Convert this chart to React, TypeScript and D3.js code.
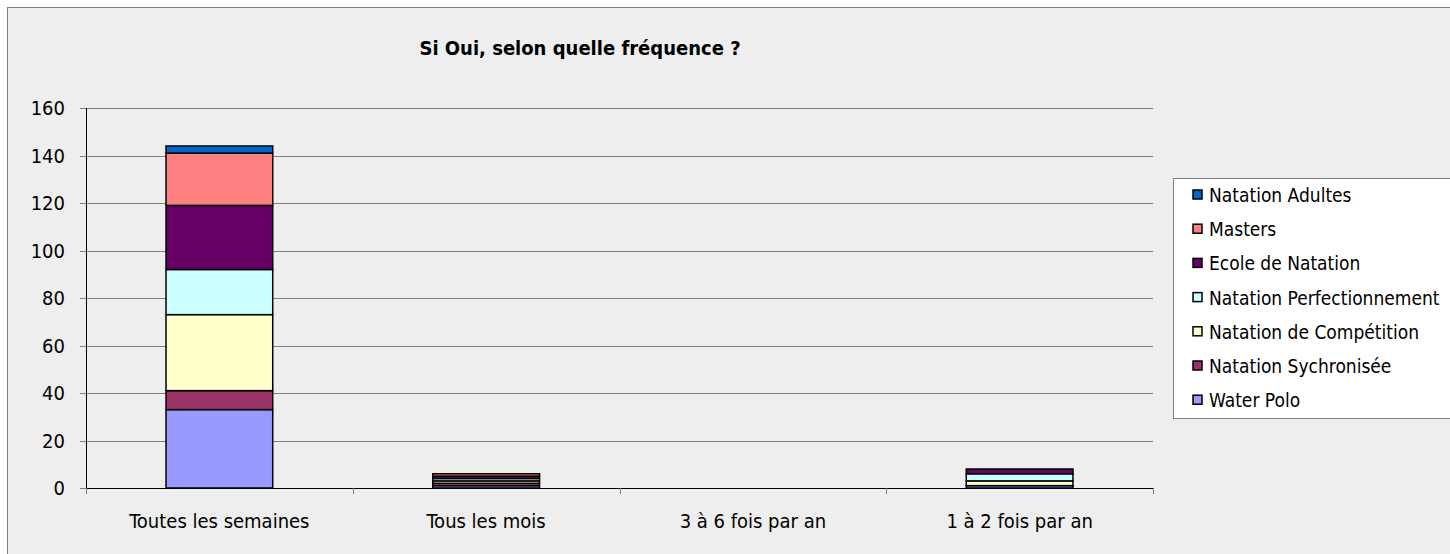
import React from "react";
import * as d3 from "d3";

// categories and series (stacked bottom -> top)
const categories = ["Toutes les semaines", "Tous les mois", "3 à 6 fois par an", "1 à 2 fois par an"];
const seriesNames = [
  "Water Polo",
  "Natation Sychronisée",
  "Natation de Compétition",
  "Natation Perfectionnement",
  "Ecole de Natation",
  "Masters",
  "Natation Adultes",
];
const waterPolo = [33, 1, 0, 1];
const synchro = [8, 1, 0, 0];
const competition = [32, 1, 0, 2];
const perfectionnement = [19, 1, 0, 3];
const ecole = [27, 1, 0, 2];
const masters = [22, 1, 0, 0];
const adultes = [3, 0, 0, 0];
const yTicks = [0, 20, 40, 60, 80, 100, 120, 140, 160];

const colors = ["#9999FF", "#993366", "#FFFFCC", "#CCFFFF", "#660066", "#FF8080", "#0066CC"];
const FONT = "'DejaVu Sans Condensed', 'Liberation Sans', sans-serif";

const App = () => {
  const W = 1450;
  const H = 554;
  const plot = { left: 86, right: 1153, top: 108, bottom: 488 };

  const allSeries = [waterPolo, synchro, competition, perfectionnement, ecole, masters, adultes];
  const rows = categories.map((c, i) => {
    const r: Record<string, any> = { cat: c };
    seriesNames.forEach((s, j) => (r[s] = allSeries[j][i]));
    return r;
  });
  const stacked = d3.stack<any>().keys(seriesNames)(rows);

  const x = d3
    .scaleBand()
    .domain(categories)
    .range([plot.left, plot.right])
    .paddingInner(0.6)
    .paddingOuter(0.3);
  const y = d3.scaleLinear().domain([0, 160]).range([plot.bottom, plot.top]);
  const step = x.step();
  const bounds = d3.range(categories.length + 1).map((i) => plot.left + i * step);

  // legend is drawn top -> bottom in reverse order
  const legendItems = seriesNames.map((s, i) => ({ s, c: colors[i] })).reverse();

  return (
    <svg
      width={W}
      height={H}
      style={{ position: "absolute", left: 0, top: 0, fontFamily: FONT }}
    >
      <rect x={7.5} y={7.5} width={W + 10} height={H + 10} fill="#EEEEEE" stroke="#808080" strokeWidth={1} />

      <text x={580} y={48} textAnchor="middle" dominantBaseline="central" fontWeight="bold" fontSize={20} fill="#000">
        Si Oui, selon quelle fréquence ?
      </text>

      {/* gridlines */}
      {yTicks.map((t) => (
        <line key={t} x1={plot.left - 6} x2={t === 0 ? plot.left : plot.right} y1={Math.round(y(t)) + 0.5} y2={Math.round(y(t)) + 0.5} stroke="#808080" strokeWidth={1} />
      ))}
      {yTicks.map((t) => (
        <text key={"l" + t} x={65} y={y(t)} textAnchor="end" dominantBaseline="central" fontSize={20} fill="#000">
          {t}
        </text>
      ))}

      {/* bars */}
      {stacked.map((layer, j) =>
        layer.map((d, i) =>
          d[1] - d[0] > 0 ? (
            <rect
              key={j + "-" + i}
              x={x(categories[i])!}
              y={y(d[1])}
              width={x.bandwidth()}
              height={y(d[0]) - y(d[1])}
              fill={colors[j]}
              stroke="#000"
              strokeWidth={1.5}
            />
          ) : null
        )
      )}

      {/* axes */}
      <line x1={plot.left + 0.5} x2={plot.left + 0.5} y1={plot.top} y2={plot.bottom} stroke="#000" strokeWidth={1} />
      <line x1={plot.left} x2={plot.right} y1={plot.bottom + 0.5} y2={plot.bottom + 0.5} stroke="#000" strokeWidth={1} />
      {bounds.map((b, i) => (
        <line key={"t" + i} x1={Math.round(b) + 0.5} x2={Math.round(b) + 0.5} y1={plot.bottom} y2={plot.bottom + 6} stroke="#808080" strokeWidth={1} />
      ))}
      {categories.map((c) => (
        <text key={c} x={x(c)! + x.bandwidth() / 2} y={521} textAnchor="middle" dominantBaseline="central" fontSize={20} fill="#000">
          {c}
        </text>
      ))}

      {/* legend */}
      <rect x={1173.5} y={178.5} width={300} height={240} fill="#FFFFFF" stroke="#808080" strokeWidth={1} />
      {legendItems.map((it, i) => (
        <g key={it.s} transform={`translate(1193, ${195 + i * 34.2})`}>
          <rect x={0} y={-5} width={9} height={9} fill={it.c} stroke="#000" strokeWidth={1.5} />
          <text x={16} y={0} dominantBaseline="central" fontSize={19} fill="#000">
            {it.s}
          </text>
        </g>
      ))}
    </svg>
  );
};

export default App;
